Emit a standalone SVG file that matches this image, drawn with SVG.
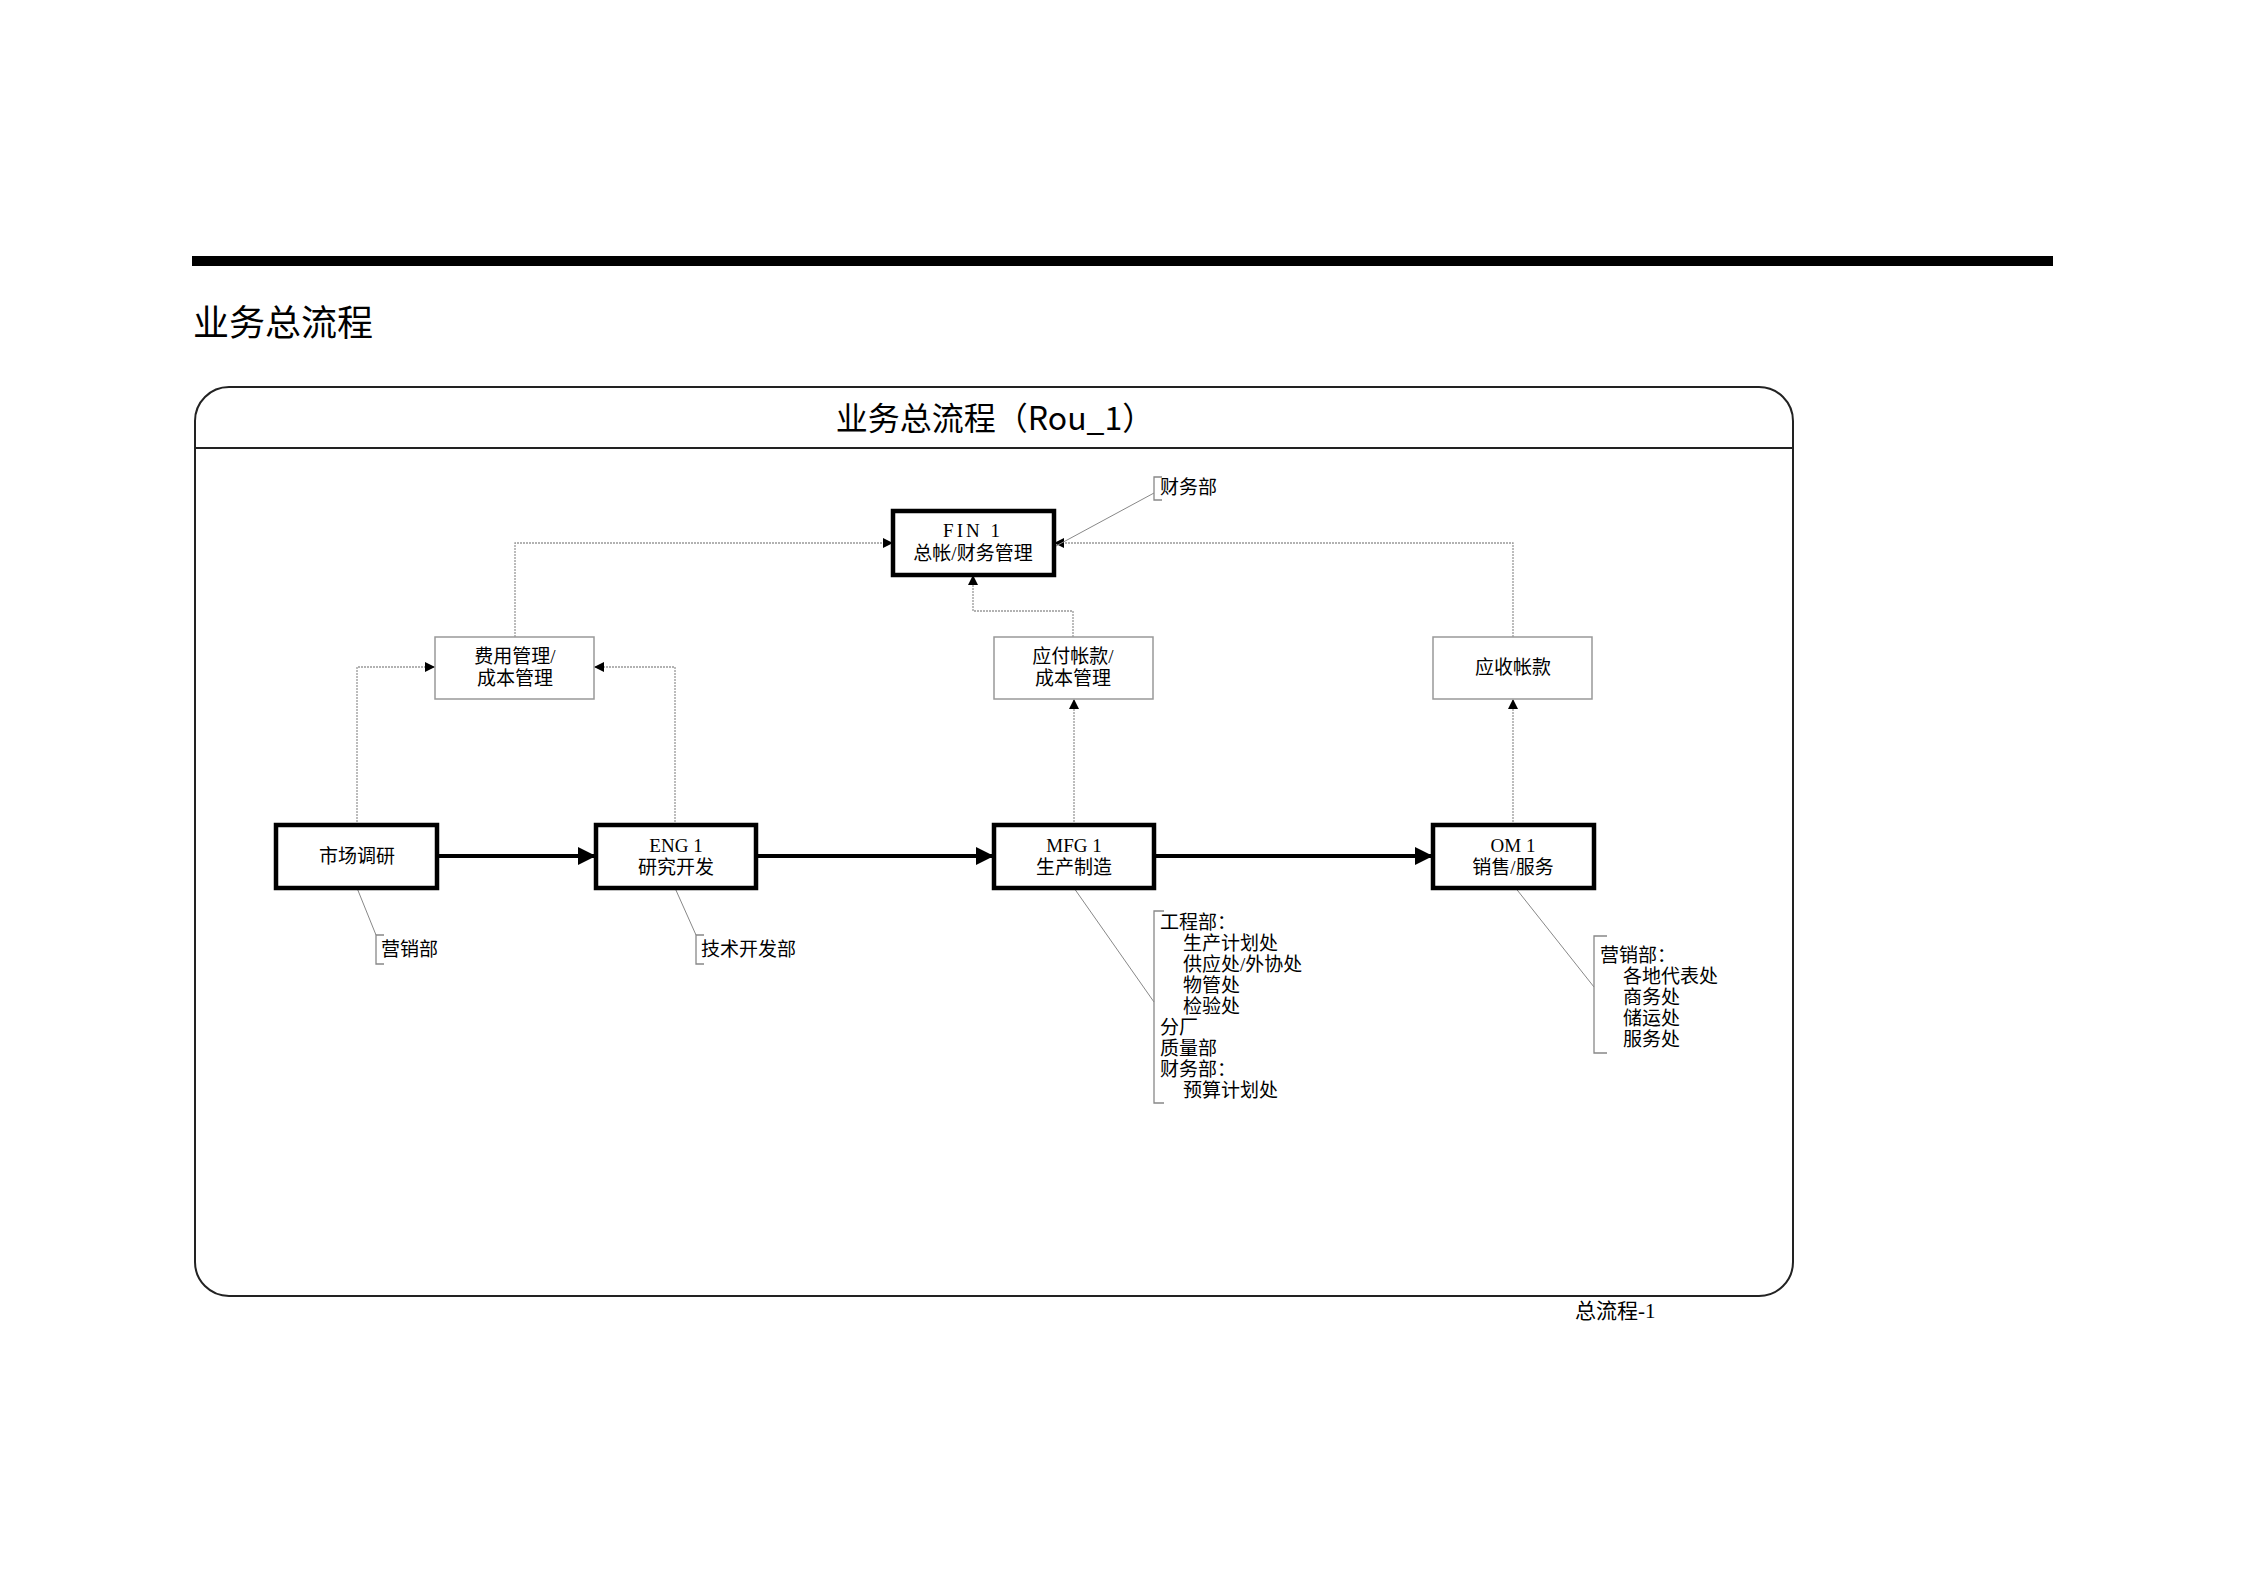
<svg xmlns="http://www.w3.org/2000/svg" width="2245" height="1587" viewBox="0 0 2245 1587">
<style>
.t{font-family:"Liberation Serif","Noto Sans CJK SC",serif;fill:#000}
.n{font-size:19px;text-anchor:middle}
.a{font-size:19px}
.box{fill:#fff;stroke:#000;stroke-width:4.5}
.sbox{fill:#fff;stroke:#999;stroke-width:1.5}
.c{fill:none;stroke:#999;stroke-width:1.3;stroke-dasharray:2 1}
.k{fill:none;stroke:#000;stroke-width:4}
.l{fill:none;stroke:#888;stroke-width:1}
.br{fill:none;stroke:#888;stroke-width:1.3}
</style>
<defs>
<marker id="s" viewBox="0 0 10 10" refX="10" refY="5" markerWidth="14" markerHeight="10" markerUnits="userSpaceOnUse" orient="auto"><path d="M0,0L10,5L0,10z" fill="#000"/></marker>
<marker id="b" viewBox="0 0 10 10" refX="10" refY="5" markerWidth="28" markerHeight="18" markerUnits="userSpaceOnUse" orient="auto"><path d="M0,0L10,5L0,10z" fill="#000"/></marker>
</defs>
<rect width="2245" height="1587" fill="#fff"/>
<rect x="192" y="256" width="1861" height="10" fill="#000"/>
<text x="193" y="336" font-family="'Noto Sans CJK SC',sans-serif" font-size="36">业务总流程</text>
<g id="frame">
<rect x="195" y="387" width="1598" height="909" rx="34" fill="none" stroke="#222" stroke-width="2"/>
<line x1="195" y1="448" x2="1793" y2="448" stroke="#222" stroke-width="2"/>
<text x="995" y="430" font-family="'Noto Sans CJK SC',sans-serif" font-size="32" text-anchor="middle">业务总流程（Rou_1）</text>
</g>
<g id="connectors">
<path class="c" d="M515,637V543H893" marker-end="url(#s)"/>
<path class="c" d="M1513,637V543H1054" marker-end="url(#s)"/>
<path class="c" d="M1073,637V611H973V575" marker-end="url(#s)"/>
<path class="c" d="M357,825V667H435" marker-end="url(#s)"/>
<path class="c" d="M675,825V667H594" marker-end="url(#s)"/>
<path class="c" d="M1074,825V699" marker-end="url(#s)"/>
<path class="c" d="M1513,825V699" marker-end="url(#s)"/>
<path class="k" d="M437,856H596" marker-end="url(#b)"/>
<path class="k" d="M756,856H994" marker-end="url(#b)"/>
<path class="k" d="M1154,856H1433" marker-end="url(#b)"/>
<path class="l" d="M1056,546L1154,493"/>
<path class="l" d="M357,888L376,935"/>
<path class="l" d="M675,888L696,935"/>
<path class="l" d="M1074,888L1154,1002"/>
<path class="l" d="M1514,886L1594,987"/>
</g>
<g id="fin1"><rect class="box" x="893" y="511" width="161" height="64"/><text class="t n" x="973" y="537" letter-spacing="3">FIN 1</text><text class="t n" x="973" y="560">总帐/财务管理</text></g>
<g id="fee"><rect class="sbox" x="435" y="637" width="159" height="62"/><text class="t n" x="515" y="663">费用管理/</text><text class="t n" x="515" y="685">成本管理</text></g>
<g id="ap"><rect class="sbox" x="994" y="637" width="159" height="62"/><text class="t n" x="1073" y="663">应付帐款/</text><text class="t n" x="1073" y="685">成本管理</text></g>
<g id="ar"><rect class="sbox" x="1433" y="637" width="159" height="62"/><text class="t n" x="1513" y="674">应收帐款</text></g>
<g id="mkt"><rect class="box" x="276" y="825" width="161" height="63"/><text class="t n" x="357" y="863">市场调研</text></g>
<g id="eng1"><rect class="box" x="596" y="825" width="160" height="63"/><text class="t n" x="676" y="852">ENG 1</text><text class="t n" x="676" y="874">研究开发</text></g>
<g id="mfg1"><rect class="box" x="994" y="825" width="160" height="63"/><text class="t n" x="1074" y="852">MFG 1</text><text class="t n" x="1074" y="874">生产制造</text></g>
<g id="om1"><rect class="box" x="1433" y="825" width="161" height="63"/><text class="t n" x="1513" y="852">OM 1</text><text class="t n" x="1513" y="874">销售/服务</text></g>
<g id="note-fin"><path class="br" d="M1162,477H1154V500H1162"/><text class="t a" x="1160" y="494">财务部</text></g>
<g id="note-mkt"><path class="br" d="M384,935H376V964H384"/><text class="t a" x="381" y="956">营销部</text></g>
<g id="note-eng"><path class="br" d="M704,935H696V964H704"/><text class="t a" x="701" y="956">技术开发部</text></g>
<g id="note-mfg"><path class="br" d="M1164,911H1154V1103H1164"/>
<text class="t a" x="1160" y="929">工程部：</text>
<text class="t a" x="1183" y="950">生产计划处</text>
<text class="t a" x="1183" y="971">供应处/外协处</text>
<text class="t a" x="1183" y="992">物管处</text>
<text class="t a" x="1183" y="1013">检验处</text>
<text class="t a" x="1160" y="1034">分厂</text>
<text class="t a" x="1160" y="1055">质量部</text>
<text class="t a" x="1160" y="1076">财务部：</text>
<text class="t a" x="1183" y="1097">预算计划处</text></g>
<g id="note-om"><path class="br" d="M1607,936H1594V1053H1607"/>
<text class="t a" x="1600" y="962">营销部：</text>
<text class="t a" x="1623" y="983">各地代表处</text>
<text class="t a" x="1623" y="1004">商务处</text>
<text class="t a" x="1623" y="1025">储运处</text>
<text class="t a" x="1623" y="1046">服务处</text></g>
<text class="t" x="1575" y="1318" font-size="21">总流程-1</text>
</svg>
